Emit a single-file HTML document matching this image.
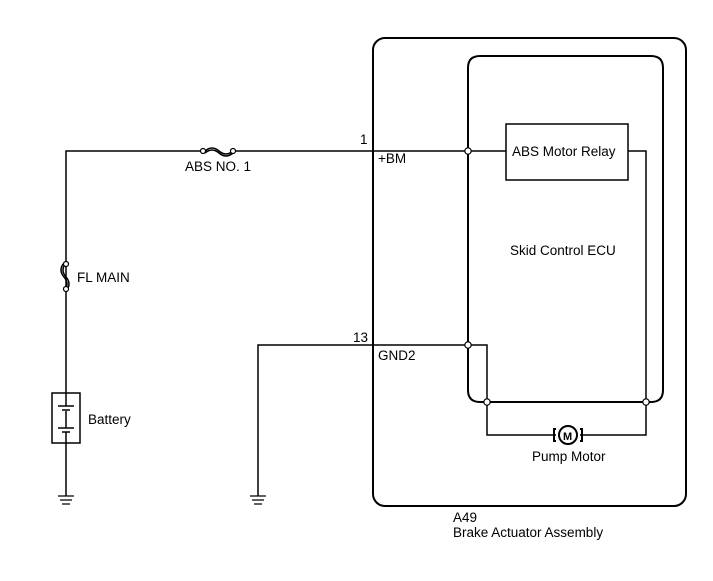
<!DOCTYPE html><html><head><style>body{margin:0;background:#fff}svg{display:block}text{font-family:"Liberation Sans",sans-serif;font-size:13.5px;fill:#000}</style></head><body>
<svg width="713" height="581" viewBox="0 0 713 581" fill="none" stroke="#000">
<rect x="373" y="38" width="313" height="468" rx="12" stroke-width="2"/>
<path d="M480 56 H651 Q663 56 663 68 V390 Q663 402 651 402 H480 Q468 402 468 390 V68 Q468 56 480 56 Z" stroke-width="2"/>
<rect x="506" y="124" width="122" height="56" stroke-width="1.5"/>
<g stroke-width="1.5">
<path d="M66 496 V151 H205 M235 151 H506"/>
<path d="M628 151 H646 V402"/>
<path d="M258 496 V345 H487 V402"/>
<path d="M487 402 V435 H556 M580 435 H646 V402"/>
<path d="M205 151 q7 -6 14 0 t14 0" />
<path d="M205 153 q7 -6 14 0 t14 0" />
<path d="M66 263 q-6 7 0 14 t0 14" />
<path d="M64 263 q-6 7 0 14 t0 14" />
</g>
<g fill="#fff" stroke-width="1.2">
<circle cx="203" cy="151" r="2.5"/><circle cx="233" cy="151" r="2.5"/>
<circle cx="66" cy="264" r="2.5"/><circle cx="66" cy="289" r="2.5"/>
<circle cx="468" cy="151" r="3.2"/><circle cx="468" cy="345" r="3.2"/>
<circle cx="487" cy="402" r="3.2"/><circle cx="646" cy="402" r="3.2"/>
</g>
<rect x="52" y="393" width="28" height="50" stroke-width="1.5" fill="#fff"/>
<path d="M66 393 V406 M58 406 H74 M62 410 H70 M66 411 V428" stroke-width="1.5"/>
<path d="M58 428 H74 M62 432 H70 M66 432 V443" stroke-width="1.5"/>
<g stroke-width="1.3">
<path d="M58 496 H74 M60 500 H72 M62 504 H70"/>
<path d="M250 496 H266 M252 500 H264 M254 504 H262"/>
</g>
<circle cx="568" cy="435" r="9" stroke-width="2" fill="#fff"/>
<path d="M556 429 h-2 v12 h2 M580 429 h2 v12 h-2" stroke-width="2"/>
<g stroke="none">
<text x="563" y="440" font-weight="bold" style="font-size:11px">M</text>
<text x="185" y="171">ABS NO. 1</text>
<text x="77" y="282">FL MAIN</text>
<text x="88" y="424">Battery</text>
<text x="360" y="144">1</text>
<text x="378" y="163">+BM</text>
<text x="353" y="342">13</text>
<text x="378" y="360">GND2</text>
<text x="512" y="156">ABS Motor Relay</text>
<text x="510" y="255">Skid Control ECU</text>
<text x="532" y="461">Pump Motor</text>
<text x="453" y="522">A49</text>
<text x="453" y="537">Brake Actuator Assembly</text>
</g>
</svg></body></html>
